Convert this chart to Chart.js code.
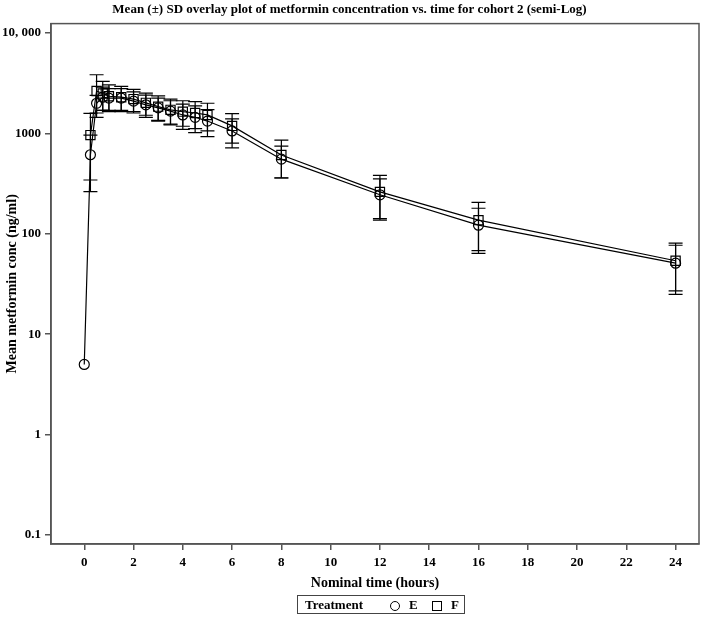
<!DOCTYPE html>
<html>
<head>
<meta charset="utf-8">
<script src="https://cdn.jsdelivr.net/npm/chart.js@4/dist/chart.umd.min.js"></script>
<style>
    body{margin:0;background:#fff;}
    #wrap{position:relative;width:709px;height:619px;}
    #legend{position:absolute;left:297px;top:595px;width:168px;height:19px;border:1px solid #444;box-sizing:border-box;
        font:bold 13px "Liberation Serif", serif;color:#000;}
    #legend span{position:absolute;top:1px;}
    .mk{position:absolute;top:5px;width:8px;height:8px;border:1px solid #000;}
</style>
</head>
<body>
<div id="wrap">
    <canvas id="chart_id" width="709" height="619"></canvas>
    <div id="legend">
        <span style="left:7px">Treatment</span>
        <div class="mk" style="left:92px;border-radius:50%"></div><span style="left:111px">E</span>
        <div class="mk" style="left:134px"></div><span style="left:153px">F</span>
    </div>
</div>
<script>
(function(){
    'use strict';
    // nominal sampling times (hours)
    const time = [0, 0.25, 0.5, 0.75, 1, 1.5, 2, 2.5, 3, 3.5, 4, 4.5, 5, 6, 8, 12, 16, 24];
    // treatment E mean and SD (ng/ml)
    const e_mean = [5, 614, 2000, 2300, 2250, 2250, 2100, 1930, 1800, 1670, 1530, 1450, 1330, 1060, 555, 245, 122, 51];
    const e_sd = [0, 350, 400, 600, 550, 550, 500, 480, 450, 450, 430, 430, 400, 340, 193, 108, 58, 26];
    // treatment F mean and SD (ng/ml), no value at time 0
    const f_mean = [null, 964, 2650, 2500, 2350, 2300, 2200, 2020, 1850, 1720, 1650, 1600, 1530, 1190, 610, 262, 137, 54];
    const f_sd = [null, 620, 1200, 800, 700, 650, 550, 500, 520, 480, 470, 480, 470, 390, 250, 120, 69, 27];
    const y_ticks = [0.1, 1, 10, 100, 1000, 10000];
    const x_ticks = [0, 2, 4, 6, 8, 10, 12, 14, 16, 18, 20, 22, 24];

    const serif = '"Liberation Serif", "Times New Roman", serif';
    const frameColor = '#555';

    const toPoints = arr => time.map((t, i) => ({x: t, y: arr[i]}));

    // draws the +/- SD bars and the closed frame round the plot
    const errorBars = {
        id: 'errorBars',
        afterDatasetsDraw(chart){
            const ctx = chart.ctx;
            const xs = chart.scales.x, ys = chart.scales.y;
            ctx.save();
            ctx.strokeStyle = '#000';
            ctx.lineWidth = 1.2;
            chart.data.datasets.forEach(ds => {
                ds.sd.forEach((sd, i) => {
                    const m = ds.mean[i];
                    if(m == null || !sd) return;
                    const px = xs.getPixelForValue(time[i]);
                    const top = ys.getPixelForValue(m + sd);
                    const bot = ys.getPixelForValue(m - sd);
                    ctx.beginPath();
                    ctx.moveTo(px, top); ctx.lineTo(px, bot);
                    ctx.moveTo(px - 7, top); ctx.lineTo(px + 7, top);
                    ctx.moveTo(px - 7, bot); ctx.lineTo(px + 7, bot);
                    ctx.stroke();
                });
            });
            const a = chart.chartArea;
            ctx.strokeStyle = frameColor;
            ctx.lineWidth = 1.5;
            ctx.strokeRect(a.left, a.top, a.right - a.left, a.bottom - a.top);
            ctx.restore();
        }
    };

    new Chart(document.getElementById('chart_id'), {
        type: 'scatter',
        data: {
            datasets: [
                {
                    label: 'E', data: toPoints(e_mean), mean: e_mean, sd: e_sd,
                    showLine: true, borderColor: '#000', borderWidth: 1.2,
                    pointStyle: 'circle', pointRadius: 5, pointBorderWidth: 1.2,
                    pointBorderColor: '#000', pointBackgroundColor: 'rgba(0,0,0,0)'
                },
                {
                    label: 'F', data: toPoints(f_mean), mean: f_mean, sd: f_sd,
                    showLine: true, borderColor: '#000', borderWidth: 1.2,
                    pointStyle: 'rect', pointRadius: 6.5, pointBorderWidth: 1.2,
                    pointBorderColor: '#000', pointBackgroundColor: 'rgba(0,0,0,0)'
                }
            ]
        },
        options: {
            responsive: false,
            animation: false,
            layout: {padding: {left: 0, right: 10, top: 0, bottom: 25}},
            plugins: {
                legend: {display: false},
                tooltip: {enabled: false},
                title: {
                    display: true,
                    text: 'Mean (\u00b1) SD overlay plot of metformin concentration vs. time for cohort 2 (semi-Log)',
                    color: '#000',
                    font: {family: serif, size: 13, weight: 'bold'},
                    padding: {top: 2, bottom: 6}
                }
            },
            scales: {
                x: {
                    type: 'linear',
                    min: -1.35, max: 24.95,
                    afterBuildTicks: s => { s.ticks = x_ticks.map(v => ({value: v})); },
                    afterFit: s => { s.height = 50; },
                    grid: {display: true, drawOnChartArea: false, drawTicks: true, tickLength: 6, color: frameColor, lineWidth: 1.5},
                    border: {display: true, color: frameColor, width: 1.5},
                    ticks: {color: '#000', padding: 5, maxRotation: 0, font: {family: serif, size: 13, weight: 'bold'}},
                    title: {display: true, text: 'Nominal time (hours)', color: '#000',
                        font: {family: serif, size: 14, weight: 'bold'}, padding: {top: 2, bottom: 2}}
                },
                y: {
                    type: 'logarithmic',
                    min: 0.0813, max: 12440,
                    afterBuildTicks: s => { s.ticks = y_ticks.map(v => ({value: v})); },
                    afterFit: s => { s.width = 51; },
                    grid: {display: true, drawOnChartArea: false, drawTicks: true, tickLength: 6, color: frameColor, lineWidth: 1.5},
                    border: {display: true, color: frameColor, width: 1.5},
                    ticks: {
                        color: '#000', padding: 4, font: {family: serif, size: 13, weight: 'bold'},
                        callback: v => v === 10000 ? '10, 000' : String(v)
                    },
                    title: {display: true, text: 'Mean metformin conc (ng/ml)', color: '#000',
                        font: {family: serif, size: 14, weight: 'bold'}, padding: {top: 4, bottom: 0}}
                }
            }
        },
        plugins: [errorBars]
    });
})();
</script>
</body>
</html>
